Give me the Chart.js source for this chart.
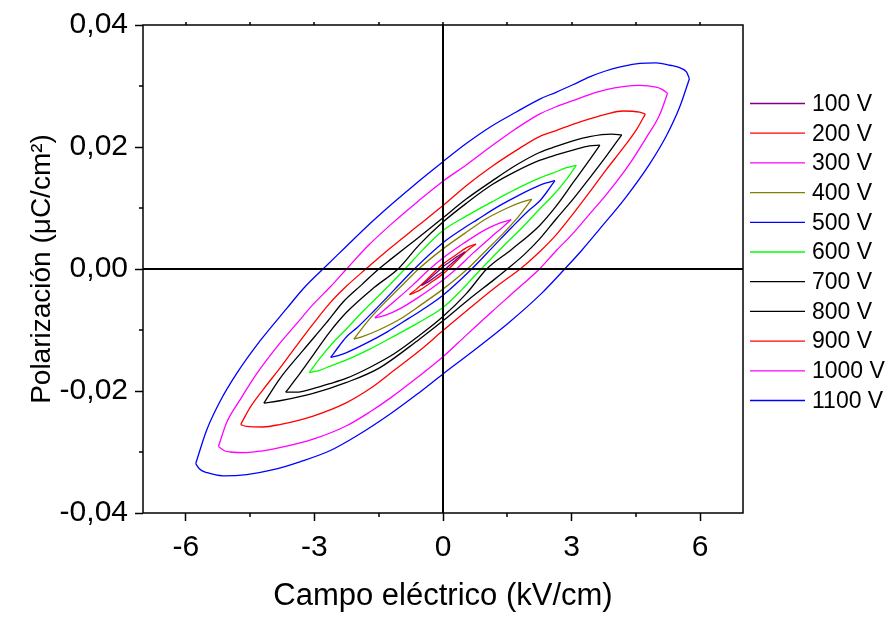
<!DOCTYPE html>
<html>
<head>
<meta charset="utf-8">
<script src="https://cdn.jsdelivr.net/npm/chart.js@4.4.1/dist/chart.umd.min.js"></script>
<style>
  html, body { margin: 0; padding: 0; background: #fff; }
  #wrap { width: 895px; height: 620px; position: relative; }
</style>
</head>
<body>
<div id="wrap"><canvas id="pe" width="895" height="620"></canvas></div>
<script>
// P-E hysteresis loops, one per applied voltage
const voltages = ['100 V', '200 V', '300 V', '400 V', '500 V', '600 V', '700 V', '800 V', '900 V', '1000 V', '1100 V'];
const loopColors = ['#800080', '#ff0000', '#ff00ff', '#808000', '#0000ff', '#00ff00', '#000000', '#000000', '#ff0000', '#ff00ff', '#0000ff'];

// Axis ticks (kV/cm and µC/cm²)
const fieldTicks = [-6, -4.5, -3, -1.5, 0, 1.5, 3, 4.5, 6];
const fieldMajor = [-6, -3, 0, 3, 6];
const polTicks = [-0.04, -0.03, -0.02, -0.01, 0, 0.01, 0.02, 0.03, 0.04];
const polMajor = [-0.04, -0.02, 0, 0.02, 0.04];

// Each loop: descending branch (from +Emax) and ascending branch (from -Emax), [E, P]
const down100 = [[0.51,0.0028],[0.30,0.0019],[0.10,0.0009],[0,0.0004],[-0.06,0],[-0.25,-0.0012],[-0.50,-0.0027]];
const up100   = [[-0.50,-0.0027],[-0.30,-0.0019],[-0.10,-0.0009],[0,-0.0004],[0.06,0],[0.25,0.0012],[0.51,0.0028]];

const down200 = [[0.77,0.0041],[0.55,0.0035],[0.30,0.0023],[0,0.0008],[-0.13,0],[-0.40,-0.0019],[-0.62,-0.0033],[-0.78,-0.0042]];
const up200   = [[-0.78,-0.0042],[-0.55,-0.0035],[-0.30,-0.0023],[0,-0.0008],[0.13,0],[0.40,0.0019],[0.62,0.0033],[0.77,0.0041]];

const down300 = [[1.59,0.0081],[1.35,0.0076],[1.00,0.0065],[0.50,0.0043],[0,0.0018],[-0.31,0],[-0.70,-0.0026],[-1.10,-0.0051],[-1.40,-0.0069],[-1.59,-0.0080]];
const up300   = [[-1.59,-0.0080],[-1.35,-0.0076],[-1.00,-0.0065],[-0.50,-0.0043],[0,-0.0018],[0.31,0],[0.70,0.0026],[1.10,0.0051],[1.40,0.0069],[1.59,0.0081]];

const down400 = [[2.07,0.0114],[1.85,0.0110],[1.50,0.0100],[1.00,0.0082],[0.50,0.0058],[0,0.0033],[-0.57,0],[-1.00,-0.0030],[-1.40,-0.0058],[-1.75,-0.0085],[-2.08,-0.0115]];
const up400   = [[-2.08,-0.0115],[-1.85,-0.0110],[-1.50,-0.0100],[-1.00,-0.0082],[-0.50,-0.0058],[0,-0.0033],[0.57,0],[1.00,0.0030],[1.40,0.0058],[1.75,0.0085],[2.07,0.0114]];

const down500 = [[2.61,0.0145],[2.41,0.0141],[2.25,0.0137],[1.80,0.0122],[1.30,0.0103],[0.80,0.0081],[0.40,0.0063],[0,0.0043],[-0.67,0],[-1.15,-0.0035],[-1.60,-0.0068],[-2.00,-0.0096],[-2.25,-0.0111],[-2.41,-0.0125],[-2.62,-0.0145]];
const up500   = [[-2.62,-0.0145],[-2.41,-0.0141],[-2.25,-0.0137],[-1.80,-0.0122],[-1.30,-0.0103],[-0.80,-0.0081],[-0.40,-0.0063],[0,-0.0043],[0.67,0],[1.15,0.0035],[1.60,0.0068],[2.00,0.0096],[2.25,0.0111],[2.41,0.0125],[2.61,0.0145]];

const down600 = [[3.11,0.0170],[2.88,0.0166],[2.56,0.0157],[2.25,0.0149],[1.70,0.0131],[1.14,0.0110],[0.55,0.0087],[0,0.0063],[-0.45,0.0033],[-0.89,0],[-1.40,-0.0037],[-1.85,-0.0068],[-2.25,-0.0098],[-2.56,-0.0120],[-2.88,-0.0147],[-3.12,-0.0170]];
const up600   = [[-3.12,-0.0170],[-2.88,-0.0166],[-2.56,-0.0157],[-2.25,-0.0149],[-1.70,-0.0131],[-1.14,-0.0110],[-0.55,-0.0087],[0,-0.0063],[0.45,-0.0033],[0.89,0],[1.40,0.0037],[1.85,0.0068],[2.25,0.0098],[2.56,0.0120],[2.88,0.0147],[3.11,0.0170]];

const down700 = [[3.66,0.0203],[3.42,0.0202],[3.03,0.0195],[2.64,0.0187],[2.25,0.0178],[1.70,0.0160],[1.14,0.0138],[0.55,0.0108],[0,0.0077],[-0.55,0.0040],[-1.05,0],[-1.60,-0.0030],[-2.25,-0.0071],[-2.64,-0.0103],[-3.03,-0.0141],[-3.42,-0.0179],[-3.67,-0.0202]];
const up700   = [[-3.67,-0.0202],[-3.42,-0.0202],[-3.03,-0.0196],[-2.64,-0.0188],[-2.25,-0.0179],[-1.70,-0.0161],[-1.14,-0.0139],[-0.55,-0.0109],[0,-0.0078],[0.55,-0.0040],[1.02,0],[1.60,0.0032],[2.25,0.0071],[2.64,0.0103],[3.03,0.0141],[3.42,0.0179],[3.66,0.0203]];

const down800 = [[4.17,0.0220],[3.93,0.0221],[3.42,0.0217],[3.03,0.0210],[2.64,0.0201],[2.25,0.0191],[1.70,0.0170],[1.14,0.0144],[0.55,0.0115],[0,0.0084],[-0.60,0.0050],[-1.20,0.0017],[-1.50,0],[-1.90,-0.0026],[-2.33,-0.0054],[-2.72,-0.0088],[-3.26,-0.0133],[-3.81,-0.0180],[-4.18,-0.0220]];
const up800   = [[-4.18,-0.0220],[-3.81,-0.0216],[-3.03,-0.0204],[-2.25,-0.0186],[-1.48,-0.0162],[-0.55,-0.0115],[0,-0.0085],[0.60,-0.0050],[1.20,-0.0017],[1.50,0],[1.90,0.0024],[2.25,0.0049],[2.64,0.0082],[3.03,0.0114],[3.42,0.0149],[3.81,0.0185],[4.17,0.0220]];

const down900 = [[4.72,0.0254],[4.59,0.0257],[4.20,0.0259],[3.81,0.0254],[3.42,0.0246],[3.03,0.0237],[2.64,0.0227],[2.25,0.0217],[1.70,0.0194],[1.14,0.0168],[0.55,0.0137],[0,0.0104],[-0.60,0.0070],[-1.20,0.0036],[-1.80,0],[-2.25,-0.0028],[-2.64,-0.0056],[-3.03,-0.0090],[-3.42,-0.0126],[-3.81,-0.0163],[-4.20,-0.0198],[-4.51,-0.0228],[-4.72,-0.0255]];
const up900   = [[-4.72,-0.0255],[-4.59,-0.0258],[-4.20,-0.0259],[-3.81,-0.0255],[-3.03,-0.0241],[-2.25,-0.0219],[-1.70,-0.0196],[-1.14,-0.0166],[-0.55,-0.0134],[0,-0.0101],[0.75,-0.0057],[1.30,-0.0026],[1.80,0],[2.25,0.0028],[2.64,0.0056],[3.03,0.0090],[3.42,0.0126],[3.81,0.0163],[4.20,0.0198],[4.51,0.0228],[4.72,0.0254]];

const down1000 = [[5.24,0.0288],[5.10,0.0295],[4.97,0.0298],[4.59,0.0301],[4.20,0.0299],[3.81,0.0294],[3.42,0.0286],[3.03,0.0276],[2.64,0.0266],[2.25,0.0254],[1.70,0.0230],[1.14,0.0202],[0.55,0.0171],[0,0.0144],[-0.60,0.0110],[-1.20,0.0074],[-1.75,0.0038],[-2.25,0],[-2.64,-0.0030],[-3.03,-0.0058],[-3.42,-0.0090],[-3.81,-0.0122],[-4.35,-0.0172],[-4.74,-0.0215],[-5.05,-0.0252],[-5.24,-0.0291]];
const up1000   = [[-5.24,-0.0291],[-5.10,-0.0298],[-4.97,-0.0300],[-4.58,-0.0301],[-4.20,-0.0298],[-3.81,-0.0293],[-3.03,-0.0279],[-2.25,-0.0257],[-1.70,-0.0234],[-1.20,-0.0210],[-0.60,-0.0178],[0,-0.0144],[0.55,-0.0108],[1.14,-0.0070],[1.70,-0.0035],[2.25,0],[2.64,0.0030],[3.03,0.0058],[3.42,0.0090],[3.81,0.0122],[4.35,0.0172],[4.74,0.0215],[5.05,0.0252],[5.24,0.0288]];

const down1100 = [[5.75,0.0312],[5.68,0.0323],[5.52,0.0330],[5.30,0.0334],[4.97,0.0338],[4.59,0.0337],[4.19,0.0332],[3.81,0.0325],[3.42,0.0315],[3.03,0.0302],[2.65,0.0290],[2.27,0.0279],[1.70,0.0257],[1.13,0.0234],[0.55,0.0206],[0,0.0176],[-0.60,0.0142],[-1.20,0.0106],[-1.80,0.0068],[-2.30,0.0034],[-2.80,0],[-3.23,-0.0030],[-3.65,-0.0065],[-4.27,-0.0118],[-4.82,-0.0172],[-5.21,-0.0218],[-5.52,-0.0265],[-5.77,-0.0319]];
const up1100   = [[-5.77,-0.0319],[-5.68,-0.0328],[-5.50,-0.0334],[-5.13,-0.0339],[-4.58,-0.0337],[-3.96,-0.0329],[-3.34,-0.0316],[-2.64,-0.0298],[-2.00,-0.0273],[-1.20,-0.0236],[-0.60,-0.0205],[0,-0.0172],[0.75,-0.0132],[1.52,-0.0089],[2.30,-0.0040],[2.84,0],[3.23,0.0030],[3.65,0.0065],[4.27,0.0118],[4.82,0.0172],[5.21,0.0218],[5.52,0.0265],[5.75,0.0312]];

const loops = [
  [down100, up100], [down200, up200], [down300, up300], [down400, up400],
  [down500, up500], [down600, up600], [down700, up700], [down800, up800],
  [down900, up900], [down1000, up1000], [down1100, up1100]
];

const toXY = pts => pts.map(([e, p]) => ({ x: e, y: p }));
const datasets = [];
loops.forEach((branches, i) => {
  branches.forEach((pts, j) => {
    datasets.push({
      label: voltages[i] + (j === 0 ? ' desc' : ' asc'),
      data: toXY(pts),
      showLine: true,
      borderColor: loopColors[i],
      backgroundColor: loopColors[i],
      borderWidth: 1.3,
      pointRadius: 0,
      cubicInterpolationMode: 'monotone',
      fill: false
    });
  });
});

const FONT = "'Liberation Sans', Arial, sans-serif";

// frame, zero axes, minor ticks and the legend column
const decorPlugin = {
  id: 'decor',
  afterDatasetsDraw(chart) {
    const { ctx, chartArea: a, scales: { x, y } } = chart;
    ctx.save();
    ctx.strokeStyle = '#000';
    const x0 = Math.round(x.getPixelForValue(0));
    const y0 = Math.round(y.getPixelForValue(0));
    ctx.lineWidth = 2;
    ctx.beginPath();
    ctx.moveTo(x0, a.top); ctx.lineTo(x0, a.bottom);
    ctx.moveTo(a.left, y0); ctx.lineTo(a.right, y0);
    ctx.stroke();
    ctx.lineWidth = 1.5;
    ctx.strokeRect(a.left, a.top, a.right - a.left, a.bottom - a.top);
    ctx.beginPath();
    fieldTicks.filter(v => !fieldMajor.includes(v)).forEach(v => {
      const px = Math.round(x.getPixelForValue(v));
      ctx.moveTo(px, a.bottom); ctx.lineTo(px, a.bottom + 4);
    });
    fieldTicks.forEach(v => {
      const px = Math.round(x.getPixelForValue(v));
      ctx.moveTo(px, a.top); ctx.lineTo(px, a.top - 3);
    });
    polTicks.filter(v => !polMajor.includes(v)).forEach(v => {
      const py = Math.round(y.getPixelForValue(v));
      ctx.moveTo(a.left, py); ctx.lineTo(a.left - 4, py);
    });
    ctx.stroke();
    ctx.restore();
  },
  afterDraw(chart) {
    const { ctx, chartArea: a } = chart;
    ctx.save();
    ctx.font = '23px ' + FONT;
    ctx.textBaseline = 'middle';
    ctx.textAlign = 'left';
    voltages.forEach((name, i) => {
      const yy = 103.5 + i * 29.7;
      ctx.strokeStyle = loopColors[i];
      ctx.lineWidth = 1.3;
      ctx.beginPath();
      ctx.moveTo(a.right + 7, yy); ctx.lineTo(a.right + 62, yy);
      ctx.stroke();
      ctx.fillStyle = '#000';
      ctx.fillText(name, a.right + 69, yy + 1);
    });
    ctx.restore();
  }
};

new Chart(document.getElementById('pe'), {
  type: 'scatter',
  data: { datasets },
  options: {
    responsive: false,
    animation: false,
    devicePixelRatio: 1,
    layout: { padding: { top: 20, right: 152, left: 0, bottom: 0 } },
    plugins: { legend: { display: false }, tooltip: { enabled: false } },
    scales: {
      x: {
        type: 'linear', min: -7, max: 7,
        afterBuildTicks: s => { s.ticks = fieldTicks.map(v => ({ value: v })); },
        afterFit: s => { s.height = 107; },
        ticks: {
          autoSkip: false, maxRotation: 0, padding: 9,
          color: '#000', font: { family: FONT, size: 30 },
          callback: v => fieldMajor.includes(v) ? String(v) : ''
        },
        grid: {
          display: true, drawOnChartArea: false, drawTicks: true, tickLength: 8, tickWidth: 1.5,
          tickColor: c => (c.tick && fieldMajor.includes(c.tick.value)) ? '#000' : 'rgba(0,0,0,0)'
        },
        border: { display: false },
        title: {
          display: true, text: 'Campo eléctrico (kV/cm)', color: '#000',
          font: { family: FONT, size: 31 }, padding: { top: 0, bottom: 5 }
        }
      },
      y: {
        type: 'linear', min: -0.04, max: 0.04,
        afterBuildTicks: s => { s.ticks = polTicks.map(v => ({ value: v })); },
        afterFit: s => { s.width = 143; },
        ticks: {
          autoSkip: false, padding: 7,
          color: '#000', font: { family: FONT, size: 30 },
          callback: v => polMajor.includes(v) ? v.toFixed(2).replace('.', ',') : ''
        },
        grid: {
          display: true, drawOnChartArea: false, drawTicks: true, tickLength: 8, tickWidth: 1.5,
          tickColor: c => (c.tick && polMajor.includes(c.tick.value)) ? '#000' : 'rgba(0,0,0,0)'
        },
        border: { display: false },
        title: {
          display: true, text: 'Polarización (μC/cm²)', color: '#000',
          font: { family: FONT, size: 28 }, padding: { top: 25, bottom: 0 }
        }
      }
    }
  },
  plugins: [decorPlugin]
});
</script>
</body>
</html>
